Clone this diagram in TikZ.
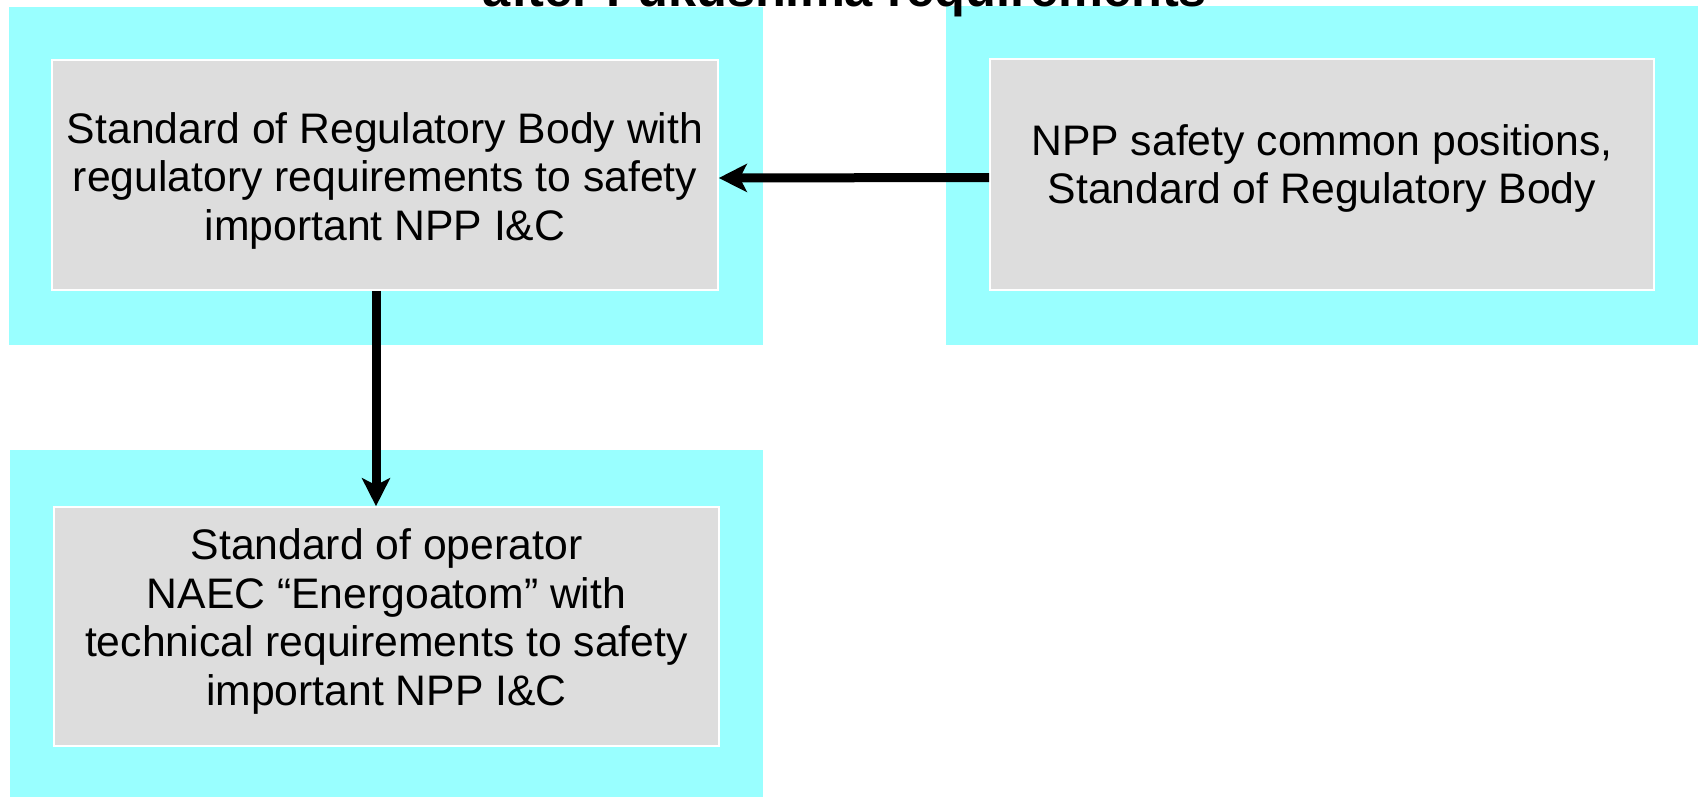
\documentclass[tikz,border=0pt]{standalone}
\usepackage{fontspec}
\setmainfont{Liberation Sans}
\usetikzlibrary{arrows.meta}
\definecolor{cyanbg}{HTML}{99FFFF}
\definecolor{boxgray}{HTML}{DDDDDD}

\begin{document}
\begin{tikzpicture}[x=0.5pt,y=-0.5pt,
  stdbox/.style={fill=boxgray,draw=white,line width=0.8pt,inner sep=0pt},
  stdtext/.style={inner sep=0pt,align=center,font=\fontsize{21.35pt}{24.25pt}\selectfont},
  flow/.style={line width=4.5pt,-{Stealth[length=14pt,width=14pt,inset=3.5pt]}}]
  \clip (0,0) rectangle (1702,797);
  % cyan frames
  \fill[cyanbg] (9,7) rectangle (763,345);
  \fill[cyanbg] (946,6) rectangle (1698,345);
  \fill[cyanbg] (10,450) rectangle (763,797);
  \node[font=\bfseries\fontsize{25.25pt}{30pt}\selectfont,anchor=base] (title) at (845,7) {after Fukushima requirements};
  % standards
  \node[stdbox,minimum width=333pt,minimum height=115pt] (reg) at (385,175) {};
  \node[stdbox,minimum width=332pt,minimum height=115.5pt] (npp) at (1322,174.5) {};
  \node[stdbox,minimum width=332.5pt,minimum height=119.5pt] (oper) at (386.5,626.5) {};
  \node[stdtext,yshift=-2.75pt] (regtxt) at (reg)
    {Standard of Regulatory Body with\\regulatory requirements to safety\\important NPP I\&C};
  \node[stdtext,yshift=3pt] (npptxt) at (npp)
    {NPP safety common positions,\\Standard of Regulatory Body};
  \node[stdtext,yshift=2.5pt] (opertxt) at (oper)
    {Standard of operator\\NAEC “Energoatom” with\\technical requirements to safety\\important NPP I\&C};
  \draw[flow] ([yshift=-1.5pt]npp.west) -- ([yshift=-1.5pt]reg.east);
  \draw[flow] ([xshift=-4.5pt]reg.south) -- ([xshift=-4.5pt]reg.south |- oper.north);
\end{tikzpicture}
\end{document}
